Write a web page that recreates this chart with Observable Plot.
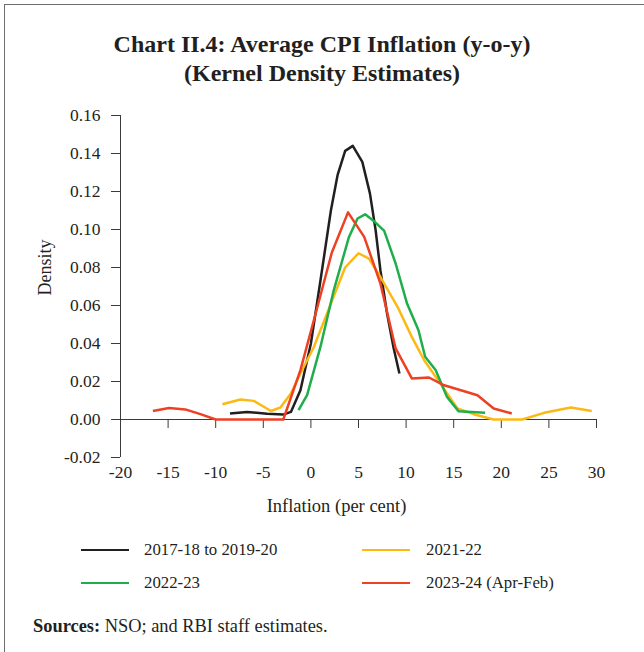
<!DOCTYPE html>
<html>
<head>
<meta charset="utf-8">
<script src="https://cdn.jsdelivr.net/npm/d3@7"></script>
<script src="https://cdn.jsdelivr.net/npm/@observablehq/plot@0.6"></script>
<style>
  html, body { margin: 0; padding: 0; background: #fff; }
  #wrap { position: relative; width: 644px; height: 652px; overflow: hidden; background: #fff;
          font-family: "Liberation Serif", serif; color: #231f20; }
  #frame { position: absolute; left: 4px; top: 4px; width: 720px; height: 720px;
           border-left: 1.5px solid #6f6f6f; border-top: 1.5px solid #6f6f6f; }
  #chart { position: absolute; left: 0; top: 0; }
  #title { position: absolute; left: 0; top: 30px; width: 644px; text-align: center;
           font-weight: bold; font-size: 24px; line-height: 29px; }
  .leg { position: absolute; font-size: 16.8px; line-height: 20px; white-space: nowrap; }
  .sw { position: absolute; height: 1.5px; }
  #src { position: absolute; left: 33px; top: 616px; font-size: 18.4px; white-space: nowrap; }
</style>
</head>
<body>
<div id="wrap">
  <div id="frame"></div>
  <div id="chart"></div>
  <div id="title">Chart II.4: Average CPI Inflation (y-o-y)<br>(Kernel Density Estimates)</div>
  <div id="legend"></div>
  <div id="src"><b>Sources:</b> NSO; and RBI staff estimates.</div>
</div>
<script>
// ---- data ----
const seriesNames = ["2017-18 to 2019-20", "2021-22", "2022-23", "2023-24 (Apr-Feb)"];
const seriesColors = ["#231f20", "#fdb913", "#1fae4b", "#ee4023"];

const black_x = [-8.5, -6.7, -4.6, -2.9, -2.1, -1.1, 0.0, 1.0, 2.1, 2.8, 3.6, 4.4, 5.4, 6.2, 6.8, 7.3, 8.0, 8.7, 9.3];
const black_y = [0.0032, 0.0040, 0.0030, 0.0026, 0.0040, 0.0154, 0.0400, 0.0730, 0.1100, 0.1286, 0.1414, 0.1440, 0.1356, 0.1190, 0.0996, 0.0786, 0.0558, 0.0374, 0.0242];

const yellow_x = [-9.3, -7.4, -6.0, -4.9, -4.2, -3.2, -2.1, -1.1, 0.3, 2.1, 3.6, 5.0, 6.1, 7.3, 9.1, 10.6, 11.9, 13.6, 15.4, 17.1, 19.2, 22.2, 24.5, 27.3, 29.5];
const yellow_y = [0.0080, 0.0105, 0.0098, 0.0066, 0.0045, 0.0063, 0.0137, 0.0242, 0.0380, 0.0610, 0.0800, 0.0875, 0.0847, 0.0750, 0.0593, 0.0435, 0.0312, 0.0189, 0.0058, 0.0028, 0.0000, 0.0000, 0.0035, 0.0063, 0.0045];

const green_x = [-1.3, -0.4, 1.0, 2.4, 4.0, 4.9, 5.7, 6.6, 7.7, 8.9, 10.1, 11.3, 12.0, 13.1, 14.3, 15.5, 18.3];
const green_y = [0.0049, 0.0128, 0.0382, 0.0680, 0.0961, 0.1058, 0.1080, 0.1045, 0.0993, 0.0821, 0.0610, 0.0470, 0.0330, 0.0260, 0.0119, 0.0044, 0.0035];

const red_x = [-16.6, -14.9, -13.2, -11.6, -10.0, -2.9, -1.1, 0.5, 2.2, 3.9, 5.6, 7.3, 8.9, 10.6, 12.4, 14.0, 17.5, 19.2, 21.1];
const red_y = [0.0045, 0.0061, 0.0053, 0.0028, 0.0000, 0.0000, 0.0260, 0.0558, 0.0879, 0.1090, 0.0961, 0.0716, 0.0374, 0.0216, 0.0221, 0.0180, 0.0128, 0.0058, 0.0032];

const xTicks = [-20, -15, -10, -5, 0, 5, 10, 15, 20, 25, 30];
const yTicks = [-0.02, 0, 0.02, 0.04, 0.06, 0.08, 0.10, 0.12, 0.14, 0.16];
const xLabel = "Inflation (per cent)";
const yLabel = "Density";

// ---- build rows ----
const seriesXY = [[black_x, black_y], [yellow_x, yellow_y], [green_x, green_y], [red_x, red_y]];
const rows = [];
seriesXY.forEach(([xs, ys], k) => xs.forEach((x, i) => rows.push({series: seriesNames[k], x, y: ys[i]})));

const axisColor = "#3a3a3a";
const chart = Plot.plot({
  width: 644,
  height: 530,
  marginLeft: 120,
  marginRight: 48,
  marginTop: 115,
  marginBottom: 73,
  style: {fontFamily: "Liberation Serif, serif", fontSize: "17px", color: "#231f20", background: "transparent"},
  x: {domain: [-20, 30]},
  y: {domain: [-0.02, 0.16]},
  color: {domain: seriesNames, range: seriesColors},
  marks: [
    Plot.ruleY([0], {stroke: axisColor, strokeWidth: 1}),
    Plot.ruleX([-20], {y1: -0.02, y2: 0.16, stroke: axisColor, strokeWidth: 1}),
    Plot.ruleX(xTicks, {x: d => d, y1: 0, y2: 0, insetTop: 0, insetBottom: -9, stroke: axisColor, strokeWidth: 1}),
    Plot.axisY(yTicks, {tickSize: 9, tickPadding: 11, tickFormat: d => d.toFixed(2), label: null, stroke: axisColor, fontSize: 17.5}),
    Plot.axisX(xTicks, {anchor: "bottom", tickSize: 0, tickPadding: 8, tickFormat: d => String(d), label: null, fontSize: 17.5}),
    Plot.line(rows, {x: "x", y: "y", z: "series", stroke: "series", strokeWidth: 2.5, strokeLinejoin: "round", strokeLinecap: "butt"}),
    Plot.text([xLabel], {frameAnchor: "bottom", text: d => d, dx: -22, dy: 54, fontSize: 18.5}),
    Plot.text([yLabel], {frameAnchor: "left", text: d => d, rotate: -90, dx: -75, dy: 9, fontSize: 18})
  ]
});
document.getElementById("chart").appendChild(chart);

// ---- legend ----
const legendPos = [
  {sx: 81, tx: 144, cy: 550},
  {sx: 362, tx: 426, cy: 550},
  {sx: 81, tx: 144, cy: 583},
  {sx: 362, tx: 426, cy: 583}
];
const legend = document.getElementById("legend");
seriesNames.forEach((name, i) => {
  const p = legendPos[i];
  const sw = document.createElement("div");
  sw.className = "sw";
  sw.style.left = p.sx + "px";
  sw.style.width = "48px";
  sw.style.top = (p.cy - 1) + "px";
  sw.style.background = seriesColors[i];
  legend.appendChild(sw);
  const t = document.createElement("div");
  t.className = "leg";
  t.style.left = p.tx + "px";
  t.style.top = (p.cy - 10) + "px";
  t.textContent = name;
  legend.appendChild(t);
});
</script>
</body>
</html>
